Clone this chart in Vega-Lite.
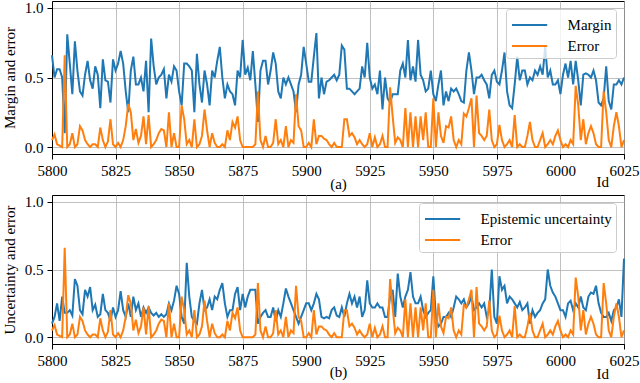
{
  "$schema": "https://vega.github.io/schema/vega-lite/v6.json",
  "background": "white",
  "padding": {"left": 1, "top": 0, "right": 0, "bottom": 0},
  "config": {
    "font": "Liberation Serif",
    "view": {"stroke": "black", "strokeWidth": 1},
    "axis": {
      "labelFont": "Liberation Serif", "titleFont": "Liberation Serif",
      "labelFontSize": 15, "titleFontSize": 15, "titleFontWeight": "normal",
      "labelColor": "black", "titleColor": "black", "labelFlush": false,
      "domainColor": "black", "tickColor": "black", "tickSize": 5,
      "gridColor": "#b0b0b0", "gridOpacity": 0.8, "gridWidth": 1, "labelPadding": 4
    },
    "legend": {
      "orient": "top-right", "offset": 8,
      "labelFont": "Liberation Serif", "labelFontSize": 15, "labelColor": "black",
      "symbolType": "M-1.6,0H1.6", "symbolStrokeWidth": 2, "symbolSize": 484, "symbolOffset": 7.6,
      "fillColor": "rgba(255,255,255,0.8)", "strokeColor": "#cccccc", "cornerRadius": 3,
      "padding": 4, "rowPadding": 1, "labelOffset": 26
    }
  },
  "data": {"values": [
{"id":5800,"margin":0.66,"error":0.05,"unc":0.10},
{"id":5801,"margin":0.50,"error":0.09,"unc":0.15},
{"id":5802,"margin":0.56,"error":0.02,"unc":0.25},
{"id":5803,"margin":0.56,"error":0.01,"unc":0.12},
{"id":5804,"margin":0.50,"error":0.00,"unc":0.30},
{"id":5805,"margin":0.10,"error":0.66,"unc":0.18},
{"id":5806,"margin":0.81,"error":0.00,"unc":0.18},
{"id":5807,"margin":0.60,"error":0.02,"unc":0.20},
{"id":5808,"margin":0.38,"error":0.10,"unc":0.16},
{"id":5809,"margin":0.76,"error":0.00,"unc":0.43},
{"id":5810,"margin":0.55,"error":0.02,"unc":0.38},
{"id":5811,"margin":0.40,"error":0.15,"unc":0.20},
{"id":5812,"margin":0.37,"error":0.12,"unc":0.17},
{"id":5813,"margin":0.52,"error":0.05,"unc":0.35},
{"id":5814,"margin":0.62,"error":0.02,"unc":0.30},
{"id":5815,"margin":0.48,"error":0.00,"unc":0.37},
{"id":5816,"margin":0.42,"error":0.02,"unc":0.20},
{"id":5817,"margin":0.58,"error":0.02,"unc":0.24},
{"id":5818,"margin":0.52,"error":0.00,"unc":0.15},
{"id":5819,"margin":0.28,"error":0.14,"unc":0.17},
{"id":5820,"margin":0.63,"error":0.05,"unc":0.32},
{"id":5821,"margin":0.48,"error":0.00,"unc":0.20},
{"id":5822,"margin":0.47,"error":0.04,"unc":0.18},
{"id":5823,"margin":0.32,"error":0.20,"unc":0.12},
{"id":5824,"margin":0.63,"error":0.02,"unc":0.22},
{"id":5825,"margin":0.55,"error":0.00,"unc":0.15},
{"id":5826,"margin":0.60,"error":0.03,"unc":0.20},
{"id":5827,"margin":0.69,"error":0.00,"unc":0.34},
{"id":5828,"margin":0.60,"error":0.05,"unc":0.20},
{"id":5829,"margin":0.40,"error":0.15,"unc":0.15},
{"id":5830,"margin":0.25,"error":0.31,"unc":0.25},
{"id":5831,"margin":0.55,"error":0.25,"unc":0.15},
{"id":5832,"margin":0.65,"error":0.05,"unc":0.30},
{"id":5833,"margin":0.45,"error":0.13,"unc":0.20},
{"id":5834,"margin":0.45,"error":0.03,"unc":0.25},
{"id":5835,"margin":0.50,"error":0.08,"unc":0.15},
{"id":5836,"margin":0.40,"error":0.22,"unc":0.22},
{"id":5837,"margin":0.62,"error":0.02,"unc":0.18},
{"id":5838,"margin":0.25,"error":0.23,"unc":0.22},
{"id":5839,"margin":0.78,"error":0.00,"unc":0.18},
{"id":5840,"margin":0.58,"error":0.02,"unc":0.16},
{"id":5841,"margin":0.45,"error":0.05,"unc":0.18},
{"id":5842,"margin":0.50,"error":0.10,"unc":0.15},
{"id":5843,"margin":0.52,"error":0.13,"unc":0.17},
{"id":5844,"margin":0.56,"error":0.12,"unc":0.15},
{"id":5845,"margin":0.35,"error":0.00,"unc":0.17},
{"id":5846,"margin":0.52,"error":0.25,"unc":0.25},
{"id":5847,"margin":0.47,"error":0.00,"unc":0.20},
{"id":5848,"margin":0.58,"error":0.10,"unc":0.27},
{"id":5849,"margin":0.55,"error":0.00,"unc":0.38},
{"id":5850,"margin":0.40,"error":0.00,"unc":0.32},
{"id":5851,"margin":0.30,"error":0.30,"unc":0.15},
{"id":5852,"margin":0.60,"error":0.20,"unc":0.10},
{"id":5853,"margin":0.60,"error":0.02,"unc":0.55},
{"id":5854,"margin":0.58,"error":0.05,"unc":0.30},
{"id":5855,"margin":0.55,"error":0.00,"unc":0.15},
{"id":5856,"margin":0.25,"error":0.20,"unc":0.12},
{"id":5857,"margin":0.67,"error":0.00,"unc":0.10},
{"id":5858,"margin":0.45,"error":0.02,"unc":0.25},
{"id":5859,"margin":0.32,"error":0.08,"unc":0.35},
{"id":5860,"margin":0.55,"error":0.27,"unc":0.20},
{"id":5861,"margin":0.45,"error":0.12,"unc":0.22},
{"id":5862,"margin":0.30,"error":0.00,"unc":0.28},
{"id":5863,"margin":0.55,"error":0.10,"unc":0.20},
{"id":5864,"margin":0.50,"error":0.03,"unc":0.30},
{"id":5865,"margin":0.62,"error":0.00,"unc":0.28},
{"id":5866,"margin":0.72,"error":0.00,"unc":0.35},
{"id":5867,"margin":0.50,"error":0.02,"unc":0.40},
{"id":5868,"margin":0.35,"error":0.00,"unc":0.25},
{"id":5869,"margin":0.45,"error":0.12,"unc":0.15},
{"id":5870,"margin":0.40,"error":0.05,"unc":0.20},
{"id":5871,"margin":0.38,"error":0.18,"unc":0.20},
{"id":5872,"margin":0.30,"error":0.14,"unc":0.32},
{"id":5873,"margin":0.55,"error":0.22,"unc":0.37},
{"id":5874,"margin":0.50,"error":0.05,"unc":0.20},
{"id":5875,"margin":0.77,"error":0.00,"unc":0.32},
{"id":5876,"margin":0.52,"error":0.00,"unc":0.22},
{"id":5877,"margin":0.57,"error":0.00,"unc":0.30},
{"id":5878,"margin":0.48,"error":0.00,"unc":0.35},
{"id":5879,"margin":0.69,"error":0.00,"unc":0.35},
{"id":5880,"margin":0.45,"error":0.02,"unc":0.35},
{"id":5881,"margin":0.18,"error":0.40,"unc":0.10},
{"id":5882,"margin":0.55,"error":0.05,"unc":0.15},
{"id":5883,"margin":0.62,"error":0.00,"unc":0.18},
{"id":5884,"margin":0.62,"error":0.08,"unc":0.20},
{"id":5885,"margin":0.45,"error":0.00,"unc":0.15},
{"id":5886,"margin":0.55,"error":0.00,"unc":0.15},
{"id":5887,"margin":0.68,"error":0.03,"unc":0.22},
{"id":5888,"margin":0.60,"error":0.20,"unc":0.12},
{"id":5889,"margin":0.40,"error":0.02,"unc":0.20},
{"id":5890,"margin":0.35,"error":0.05,"unc":0.15},
{"id":5891,"margin":0.50,"error":0.00,"unc":0.25},
{"id":5892,"margin":0.45,"error":0.15,"unc":0.36},
{"id":5893,"margin":0.50,"error":0.00,"unc":0.30},
{"id":5894,"margin":0.45,"error":0.05,"unc":0.25},
{"id":5895,"margin":0.40,"error":0.03,"unc":0.20},
{"id":5896,"margin":0.25,"error":0.38,"unc":0.15},
{"id":5897,"margin":0.45,"error":0.15,"unc":0.10},
{"id":5898,"margin":0.52,"error":0.12,"unc":0.15},
{"id":5899,"margin":0.72,"error":0.00,"unc":0.20},
{"id":5900,"margin":0.60,"error":0.00,"unc":0.25},
{"id":5901,"margin":0.47,"error":0.03,"unc":0.25},
{"id":5902,"margin":0.47,"error":0.00,"unc":0.20},
{"id":5903,"margin":0.65,"error":0.20,"unc":0.25},
{"id":5904,"margin":0.82,"error":0.02,"unc":0.32},
{"id":5905,"margin":0.35,"error":0.08,"unc":0.28},
{"id":5906,"margin":0.50,"error":0.08,"unc":0.15},
{"id":5907,"margin":0.38,"error":0.06,"unc":0.14},
{"id":5908,"margin":0.47,"error":0.05,"unc":0.15},
{"id":5909,"margin":0.48,"error":0.02,"unc":0.14},
{"id":5910,"margin":0.50,"error":0.00,"unc":0.20},
{"id":5911,"margin":0.52,"error":0.03,"unc":0.22},
{"id":5912,"margin":0.48,"error":0.00,"unc":0.16},
{"id":5913,"margin":0.52,"error":0.00,"unc":0.15},
{"id":5914,"margin":0.73,"error":0.00,"unc":0.22},
{"id":5915,"margin":0.70,"error":0.20,"unc":0.15},
{"id":5916,"margin":0.42,"error":0.20,"unc":0.25},
{"id":5917,"margin":0.42,"error":0.08,"unc":0.32},
{"id":5918,"margin":0.40,"error":0.10,"unc":0.25},
{"id":5919,"margin":0.38,"error":0.07,"unc":0.30},
{"id":5920,"margin":0.40,"error":0.02,"unc":0.22},
{"id":5921,"margin":0.42,"error":0.05,"unc":0.30},
{"id":5922,"margin":0.58,"error":0.02,"unc":0.15},
{"id":5923,"margin":0.50,"error":0.00,"unc":0.20},
{"id":5924,"margin":0.75,"error":0.02,"unc":0.42},
{"id":5925,"margin":0.50,"error":0.10,"unc":0.25},
{"id":5926,"margin":0.42,"error":0.00,"unc":0.22},
{"id":5927,"margin":0.45,"error":0.07,"unc":0.22},
{"id":5928,"margin":0.38,"error":0.00,"unc":0.25},
{"id":5929,"margin":0.55,"error":0.02,"unc":0.22},
{"id":5930,"margin":0.27,"error":0.08,"unc":0.22},
{"id":5931,"margin":0.50,"error":0.00,"unc":0.15},
{"id":5932,"margin":0.35,"error":0.00,"unc":0.15},
{"id":5933,"margin":0.32,"error":0.43,"unc":0.30},
{"id":5934,"margin":0.38,"error":0.22,"unc":0.35},
{"id":5935,"margin":0.38,"error":0.03,"unc":0.15},
{"id":5936,"margin":0.38,"error":0.07,"unc":0.47},
{"id":5937,"margin":0.55,"error":0.05,"unc":0.30},
{"id":5938,"margin":0.60,"error":0.00,"unc":0.22},
{"id":5939,"margin":0.50,"error":0.28,"unc":0.30},
{"id":5940,"margin":0.77,"error":0.00,"unc":0.35},
{"id":5941,"margin":0.48,"error":0.25,"unc":0.48},
{"id":5942,"margin":0.58,"error":0.00,"unc":0.30},
{"id":5943,"margin":0.47,"error":0.22,"unc":0.25},
{"id":5944,"margin":0.77,"error":0.00,"unc":0.25},
{"id":5945,"margin":0.52,"error":0.22,"unc":0.30},
{"id":5946,"margin":0.48,"error":0.05,"unc":0.20},
{"id":5947,"margin":0.40,"error":0.25,"unc":0.15},
{"id":5948,"margin":0.42,"error":0.00,"unc":0.18},
{"id":5949,"margin":0.55,"error":0.00,"unc":0.20},
{"id":5950,"margin":0.38,"error":0.35,"unc":0.45},
{"id":5951,"margin":0.33,"error":0.00,"unc":0.15},
{"id":5952,"margin":0.45,"error":0.25,"unc":0.08},
{"id":5953,"margin":0.55,"error":0.08,"unc":0.10},
{"id":5954,"margin":0.30,"error":0.03,"unc":0.15},
{"id":5955,"margin":0.40,"error":0.15,"unc":0.15},
{"id":5956,"margin":0.33,"error":0.14,"unc":0.18},
{"id":5957,"margin":0.42,"error":0.22,"unc":0.15},
{"id":5958,"margin":0.40,"error":0.05,"unc":0.22},
{"id":5959,"margin":0.42,"error":0.00,"unc":0.30},
{"id":5960,"margin":0.38,"error":0.05,"unc":0.28},
{"id":5961,"margin":0.33,"error":0.02,"unc":0.25},
{"id":5962,"margin":0.32,"error":0.24,"unc":0.28},
{"id":5963,"margin":0.55,"error":0.22,"unc":0.22},
{"id":5964,"margin":0.68,"error":0.28,"unc":0.25},
{"id":5965,"margin":0.55,"error":0.35,"unc":0.30},
{"id":5966,"margin":0.38,"error":0.00,"unc":0.20},
{"id":5967,"margin":0.50,"error":0.37,"unc":0.22},
{"id":5968,"margin":0.50,"error":0.10,"unc":0.25},
{"id":5969,"margin":0.52,"error":0.08,"unc":0.22},
{"id":5970,"margin":0.48,"error":0.05,"unc":0.25},
{"id":5971,"margin":0.45,"error":0.08,"unc":0.15},
{"id":5972,"margin":0.35,"error":0.27,"unc":0.20},
{"id":5973,"margin":0.52,"error":0.05,"unc":0.50},
{"id":5974,"margin":0.55,"error":0.00,"unc":0.15},
{"id":5975,"margin":0.47,"error":0.02,"unc":0.10},
{"id":5976,"margin":0.45,"error":0.16,"unc":0.45},
{"id":5977,"margin":0.55,"error":0.05,"unc":0.35},
{"id":5978,"margin":0.68,"error":0.00,"unc":0.38},
{"id":5979,"margin":0.40,"error":0.02,"unc":0.25},
{"id":5980,"margin":0.30,"error":0.05,"unc":0.30},
{"id":5981,"margin":0.28,"error":0.00,"unc":0.28},
{"id":5982,"margin":0.45,"error":0.23,"unc":0.25},
{"id":5983,"margin":0.65,"error":0.00,"unc":0.22},
{"id":5984,"margin":0.48,"error":0.02,"unc":0.26},
{"id":5985,"margin":0.55,"error":0.00,"unc":0.20},
{"id":5986,"margin":0.55,"error":0.00,"unc":0.22},
{"id":5987,"margin":0.45,"error":0.08,"unc":0.25},
{"id":5988,"margin":0.50,"error":0.18,"unc":0.10},
{"id":5989,"margin":0.48,"error":0.05,"unc":0.20},
{"id":5990,"margin":0.55,"error":0.00,"unc":0.15},
{"id":5991,"margin":0.52,"error":0.00,"unc":0.18},
{"id":5992,"margin":0.58,"error":0.05,"unc":0.20},
{"id":5993,"margin":0.52,"error":0.10,"unc":0.25},
{"id":5994,"margin":0.72,"error":0.00,"unc":0.28},
{"id":5995,"margin":0.50,"error":0.02,"unc":0.50},
{"id":5996,"margin":0.55,"error":0.05,"unc":0.38},
{"id":5997,"margin":0.45,"error":0.02,"unc":0.33},
{"id":5998,"margin":0.45,"error":0.08,"unc":0.30},
{"id":5999,"margin":0.48,"error":0.12,"unc":0.25},
{"id":6000,"margin":0.38,"error":0.05,"unc":0.20},
{"id":6001,"margin":0.52,"error":0.00,"unc":0.20},
{"id":6002,"margin":0.60,"error":0.02,"unc":0.15},
{"id":6003,"margin":0.50,"error":0.00,"unc":0.25},
{"id":6004,"margin":0.62,"error":0.05,"unc":0.27},
{"id":6005,"margin":0.45,"error":0.02,"unc":0.20},
{"id":6006,"margin":0.62,"error":0.44,"unc":0.25},
{"id":6007,"margin":0.48,"error":0.30,"unc":0.22},
{"id":6008,"margin":0.30,"error":0.05,"unc":0.30},
{"id":6009,"margin":0.52,"error":0.20,"unc":0.22},
{"id":6010,"margin":0.53,"error":0.02,"unc":0.20},
{"id":6011,"margin":0.52,"error":0.10,"unc":0.30},
{"id":6012,"margin":0.50,"error":0.15,"unc":0.33},
{"id":6013,"margin":0.55,"error":0.10,"unc":0.32},
{"id":6014,"margin":0.48,"error":0.02,"unc":0.38},
{"id":6015,"margin":0.32,"error":0.00,"unc":0.25},
{"id":6016,"margin":0.30,"error":0.00,"unc":0.18},
{"id":6017,"margin":0.35,"error":0.40,"unc":0.15},
{"id":6018,"margin":0.58,"error":0.25,"unc":0.15},
{"id":6019,"margin":0.33,"error":0.05,"unc":0.18},
{"id":6020,"margin":0.27,"error":0.00,"unc":0.12},
{"id":6021,"margin":0.45,"error":0.15,"unc":0.20},
{"id":6022,"margin":0.45,"error":0.25,"unc":0.22},
{"id":6023,"margin":0.48,"error":0.15,"unc":0.28},
{"id":6024,"margin":0.45,"error":0.00,"unc":0.15},
{"id":6025,"margin":0.50,"error":0.05,"unc":0.58}
  ]},
  "bounds": "flush",
  "spacing": 41,
  "resolve": {"scale": {"color": "independent"}, "legend": {"color": "independent"}},
  "vconcat": [
    {
      "width": 572, "height": 153,
      "title": {"text": "Id", "orient": "bottom", "anchor": "end", "frame": "group", "offset": -16, "dx": -15, "baseline": "top", "fontSize": 15, "font": "Liberation Serif", "fontWeight": "normal", "color": "black"},
      "encoding": {
        "x": {"field": "id", "type": "quantitative", "scale": {"domain": [5800, 6025], "nice": false, "zero": false},
              "axis": {"values": [5800, 5825, 5850, 5875, 5900, 5925, 5950, 5975, 6000, 6025], "format": "d", "title": "(a)", "titlePadding": -2}}
      },
      "layer": [
        {"mark": {"type": "line", "strokeWidth": 2},
         "encoding": {
           "y": {"field": "margin", "type": "quantitative", "scale": {"domain": [-0.05, 1.05], "nice": false, "zero": false},
                 "axis": {"values": [0, 0.5, 1], "format": ".1f", "title": "Margin and error", "titlePadding": 7}},
           "color": {"datum": "Margin", "type": "nominal", "scale": {"domain": ["Margin", "Error"], "range": ["#1f77b4", "#ff7f0e"]}, "legend": {"title": null}}
         }},
        {"mark": {"type": "line", "strokeWidth": 2},
         "encoding": {
           "y": {"field": "error", "type": "quantitative"},
           "color": {"datum": "Error", "type": "nominal"}
         }}
      ]
    },
    {
      "width": 572, "height": 149,
      "title": {"text": "Id", "orient": "bottom", "anchor": "end", "frame": "group", "offset": -12, "dx": -15, "baseline": "top", "fontSize": 15, "font": "Liberation Serif", "fontWeight": "normal", "color": "black"},
      "encoding": {
        "x": {"field": "id", "type": "quantitative", "scale": {"domain": [5800, 6025], "nice": false, "zero": false},
              "axis": {"values": [5800, 5825, 5850, 5875, 5900, 5925, 5950, 5975, 6000, 6025], "format": "d", "title": "(b)", "titlePadding": -4}}
      },
      "layer": [
        {"mark": {"type": "line", "strokeWidth": 2},
         "encoding": {
           "y": {"field": "unc", "type": "quantitative", "scale": {"domain": [-0.05, 1.05], "nice": false, "zero": false},
                 "axis": {"values": [0, 0.5, 1], "format": ".1f", "title": "Uncertainty and error", "titlePadding": 7}},
           "color": {"datum": "Epistemic uncertainty", "type": "nominal", "scale": {"domain": ["Epistemic uncertainty", "Error"], "range": ["#1f77b4", "#ff7f0e"]}, "legend": {"title": null}}
         }},
        {"mark": {"type": "line", "strokeWidth": 2},
         "encoding": {
           "y": {"field": "error", "type": "quantitative"},
           "color": {"datum": "Error", "type": "nominal"}
         }}
      ]
    }
  ]
}
